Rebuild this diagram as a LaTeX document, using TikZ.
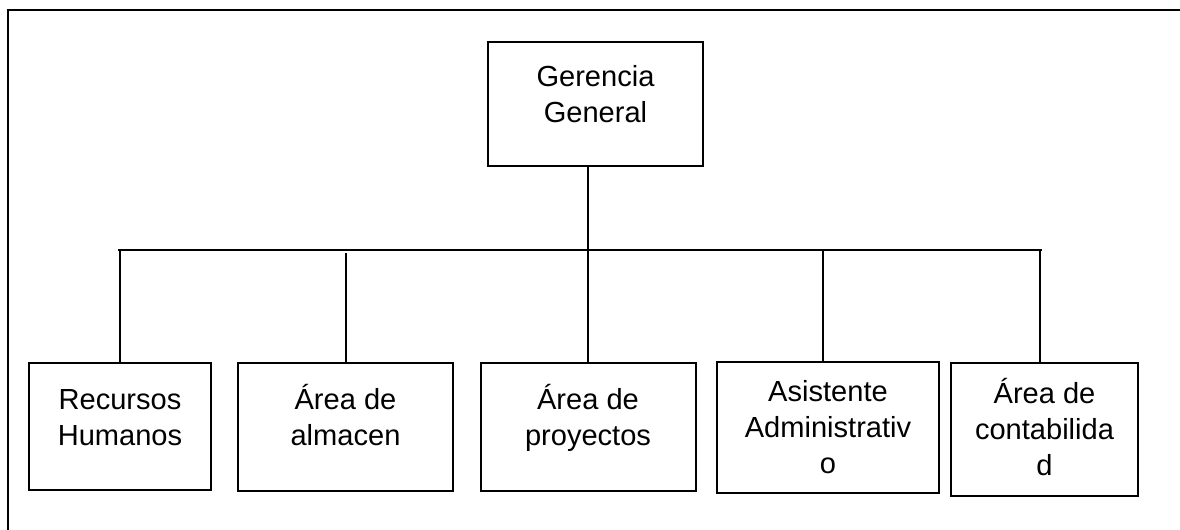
\documentclass[tikz,border=0pt]{standalone}
\usepackage{fontspec}
\setmainfont{Liberation Sans}
\newcommand{\firststrut}{\rule{0pt}{24pt}}
\begin{document}
\begin{tikzpicture}[x=0.75pt,y=-0.75pt,
  line width=1.5pt,
  unitbox/.style={draw=black, line width=1.5pt, inner sep=0pt, fill=white},
  unittext/.style={anchor=north, align=center, inner sep=0pt,
    font=\fontsize{21.8}{27}\selectfont},
  link/.style={draw=black, line width=1.5pt}]
\useasboundingbox (0,0) rectangle (1180,529);
\fill[white] (0,0) rectangle (1180,529);

% outer frame (left and top edges)
\draw[line width=1.5pt] (8,535) -- (8,10) -- (1190,10);

% boxes
\node[unitbox, minimum width=161.25pt, minimum height=93pt]    (gg) at (595.5,104)   {};
\node[unitbox, minimum width=136.5pt,  minimum height=95.25pt] (b1) at (120,426.5)   {};
\node[unitbox, minimum width=161.25pt, minimum height=96pt]    (b2) at (345.5,427)   {};
\node[unitbox, minimum width=161.25pt, minimum height=96pt]    (b3) at (588.5,427)   {};
\node[unitbox, minimum width=166.5pt,  minimum height=98.25pt] (b4) at (828,427.5)   {};
\node[unitbox, minimum width=140.25pt, minimum height=99.75pt] (b5) at (1044.5,429.5) {};

% box texts (first baseline = anchor + 32)
\node[unittext] (tgg) at (595.5,53)  {\firststrut Gerencia\\General};
\node[unittext] (tb1) at (120,376)   {\firststrut Recursos\\Humanos};
\node[unittext] (tb2) at (345.5,376) {\firststrut Área de\\almacen};
\node[unittext] (tb3) at (588,376)   {\firststrut Área de\\proyectos};
\node[unittext] (tb4) at (828,368)   {\firststrut Asistente\\Administrativ\\o};
\node[unittext] (tb5) at (1044.5,370) {\firststrut Área de\\contabilida\\d};

% bus line and drops
\coordinate (busL) at (118,250);
\coordinate (busR) at (1042,250);
\coordinate (top) at (588,250);
\coordinate (d1) at (120,250);
\coordinate (d2) at (346,253);
\coordinate (d3) at (588,250);
\coordinate (d4) at (823,250);
\coordinate (d5) at (1040,250);

\draw[link] (gg.south -| top) -- (top);
\draw[link] (busL) -- (busR);
\draw[link] (d1) -- (d1 |- b1.north);
\draw[link] (d2) -- (d2 |- b2.north);
\draw[link] (d3) -- (d3 |- b3.north);
\draw[link] (d4) -- (d4 |- b4.north);
\draw[link] (d5) -- (d5 |- b5.north);
\end{tikzpicture}
\end{document}
